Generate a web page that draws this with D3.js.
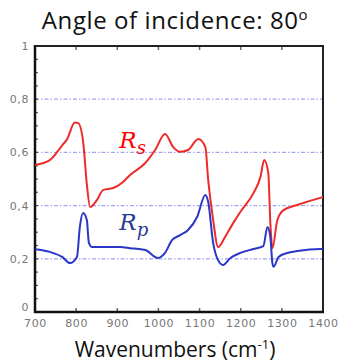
<!DOCTYPE html>
<html><head><meta charset="utf-8">
<script src="https://cdn.jsdelivr.net/npm/d3@7"></script>
<style>body{margin:0;background:#fff}svg{display:block}</style>
</head><body>
<svg id="c" width="341" height="363"></svg>
<script>
const titleText = "Angle of incidence: 80";
const titleSup = "o";
const xLabelText = "Wavenumbers (cm";
const xLabelSup = "-1";
const xTicks = [700, 800, 900, 1000, 1100, 1200, 1300, 1400];
const yTicks = [0, 0.2, 0.4, 0.6, 0.8, 1];
const yTickLabels = ["0", "0,2", "0,4", "0,6", "0,8", "1"];
const gridValues = [0.2, 0.4, 0.6, 0.8];

const rsWave = [700, 736, 768, 777, 797, 805, 817, 826, 834, 850, 866, 890, 914, 931, 968, 992, 1016, 1036, 1053, 1072, 1097, 1114, 1121, 1133, 1145, 1162, 1182, 1199, 1231, 1248, 1257, 1267, 1272, 1277, 1289, 1304, 1337, 1393, 1400];
const rsValue = [0.553, 0.571, 0.630, 0.647, 0.712, 0.710, 0.640, 0.480, 0.395, 0.420, 0.459, 0.466, 0.489, 0.515, 0.560, 0.609, 0.669, 0.620, 0.602, 0.609, 0.650, 0.620, 0.496, 0.346, 0.244, 0.282, 0.335, 0.376, 0.447, 0.508, 0.571, 0.523, 0.335, 0.240, 0.346, 0.383, 0.402, 0.429, 0.432];

const rpWave = [700, 736, 766, 785, 802, 809, 817, 826, 831, 839, 875, 907, 931, 968, 999, 1016, 1033, 1053, 1072, 1094, 1114, 1121, 1133, 1145, 1157, 1175, 1199, 1231, 1255, 1265, 1272, 1277, 1280, 1292, 1313, 1337, 1393, 1400];
const rpValue = [0.236, 0.226, 0.207, 0.184, 0.207, 0.320, 0.372, 0.346, 0.260, 0.244, 0.244, 0.244, 0.240, 0.233, 0.203, 0.222, 0.270, 0.289, 0.308, 0.357, 0.440, 0.414, 0.260, 0.195, 0.177, 0.203, 0.222, 0.237, 0.248, 0.320, 0.282, 0.184, 0.170, 0.207, 0.222, 0.229, 0.237, 0.237];

const series = [
  {name: "R", sub: "s", wave: rsWave, value: rsValue, color: "#ee2a2a", labelColor: "#ff0000", at: [905, 0.615]},
  {name: "R", sub: "p", wave: rpWave, value: rpValue, color: "#2a36c8", labelColor: "#2b3a94", at: [905, 0.31]}
];

const svg = d3.select("#c");
const L = 35, R = 323, T = 46, B = 312;
const x = d3.scaleLinear().domain([700, 1400]).range([L, R]);
const y = d3.scaleLinear().domain([0, 1]).range([B, T]);

// grid
svg.append("g").selectAll("line").data(gridValues).join("line")
  .attr("x1", L).attr("x2", R).attr("y1", d => y(d)).attr("y2", d => y(d))
  .attr("stroke", "#9fa6ee").attr("stroke-width", 1.2).attr("stroke-dasharray", "4,2,1.5,2");

// minor ticks on left axis
const minor = d3.range(0.05, 1.0001, 0.05);
svg.append("g").selectAll("line").data(minor).join("line")
  .attr("x1", L).attr("x2", L + 3).attr("y1", d => y(d)).attr("y2", d => y(d))
  .attr("stroke", "#555").attr("stroke-width", 1.2);

// top & bottom inner ticks
const innerX = xTicks.slice(1, -1);
svg.append("g").selectAll("line").data(innerX).join("line")
  .attr("x1", d => x(d)).attr("x2", d => x(d)).attr("y1", T).attr("y2", T + 4)
  .attr("stroke", "#666").attr("stroke-width", 1.5);
svg.append("g").selectAll("line").data(innerX).join("line")
  .attr("x1", d => x(d)).attr("x2", d => x(d)).attr("y1", B).attr("y2", B - 4)
  .attr("stroke", "#666").attr("stroke-width", 1.5);

// axes with d3
const xAxis = d3.axisBottom(x).tickValues(xTicks).tickSize(0).tickPadding(7).tickFormat(d3.format("d"));
const gx = svg.append("g").attr("transform", `translate(0,${B})`).call(xAxis);
gx.select(".domain").remove();
gx.selectAll("text").attr("font-family", "DejaVu Sans").attr("font-size", 11)
  .attr("letter-spacing", "0.6px").attr("fill", "#777");

const yAxis = d3.axisLeft(y).tickValues(yTicks).tickSize(0).tickPadding(6)
  .tickFormat((d, i) => yTickLabels[i]);
const gy = svg.append("g").attr("transform", `translate(${L},0)`).call(yAxis);
gy.select(".domain").remove();
gy.selectAll("text").attr("font-family", "DejaVu Sans").attr("font-size", 11)
  .attr("letter-spacing", "0.6px").attr("fill", "#777");
// lift the "0" label slightly above the x tick labels, as in the reference
gy.selectAll(".tick").filter(d => d === 0).select("text").attr("dy", "-0.1em");

// frame
svg.append("line").attr("x1", L).attr("x2", R + 1).attr("y1", T).attr("y2", T).attr("stroke", "#222").attr("stroke-width", 2);
svg.append("line").attr("x1", R).attr("x2", R).attr("y1", T).attr("y2", B).attr("stroke", "#222").attr("stroke-width", 2);
svg.append("line").attr("x1", L).attr("x2", L).attr("y1", T - 1).attr("y2", B + 1).attr("stroke", "#111").attr("stroke-width", 2.5);
svg.append("line").attr("x1", L - 1).attr("x2", R + 1).attr("y1", B).attr("y2", B).attr("stroke", "#111").attr("stroke-width", 2.5);

// curves
const line = d3.line().x(d => x(d[0])).y(d => y(d[1])).curve(d3.curveMonotoneX);
series.forEach(s => {
  const pts = s.wave.map((w, i) => [w, s.value[i]]);
  svg.append("path").datum(pts).attr("d", line).attr("fill", "none")
    .attr("stroke", s.color).attr("stroke-width", 2).attr("stroke-linejoin", "round");
  const t = svg.append("text").attr("x", x(s.at[0])).attr("y", y(s.at[1]))
    .attr("font-family", "DejaVu Serif").attr("font-style", "italic")
    .attr("font-size", 23).attr("fill", s.labelColor);
  t.append("tspan").text(s.name);
  t.append("tspan").attr("dy", 6).attr("font-size", 18).text(s.sub);
});

// title
const title = svg.append("text").attr("x", 175).attr("y", 29).attr("text-anchor", "middle")
  .attr("font-family", "Open Sans").attr("font-size", 24).attr("letter-spacing", "0.6px").attr("fill", "#111");
title.append("tspan").text(titleText);
title.append("tspan").attr("dy", -9).attr("font-size", 15).text(titleSup);

// x label
const xl = svg.append("text").attr("x", 175).attr("y", 357).attr("text-anchor", "middle")
  .attr("font-family", "Open Sans").attr("font-size", 21).attr("fill", "#111");
xl.append("tspan").text(xLabelText);
xl.append("tspan").attr("dy", -8).attr("font-size", 13).text(xLabelSup);
xl.append("tspan").attr("dy", 8).text(")");
</script>
</body></html>
